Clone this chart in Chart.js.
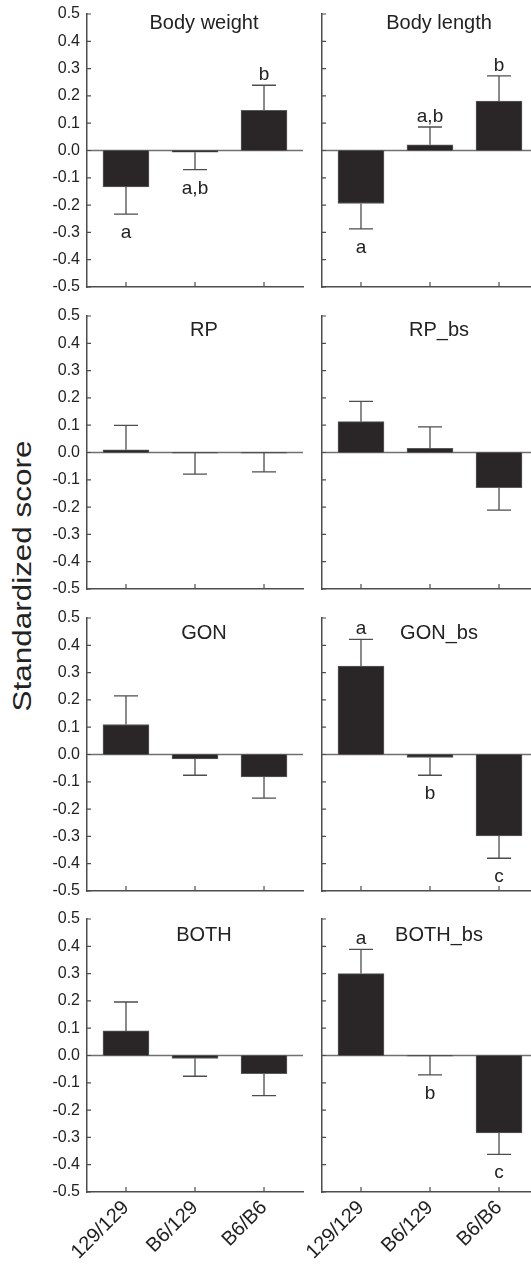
<!DOCTYPE html>
<html>
<head>
<meta charset="utf-8">
<script src="https://cdn.jsdelivr.net/npm/chart.js@4.4.1/dist/chart.umd.min.js"></script>
<style>
html, body { margin: 0; padding: 0; background: #fff; overflow: hidden; }
body { width: 531px; height: 1269px; position: relative; }
canvas { position: absolute; }
#ytitle {
  position: absolute; left: 22px; top: 576px;
  font: 26px "Liberation Sans", Arial, sans-serif; color: #222; white-space: nowrap;
  transform: translate(-50%, -50%) rotate(-90deg) scaleX(1.21);
}
</style>
</head>
<body>
<div id="ytitle">Standardized score</div>
<canvas id="c0"></canvas><canvas id="c1"></canvas>
<canvas id="c2"></canvas><canvas id="c3"></canvas>
<canvas id="c4"></canvas><canvas id="c5"></canvas>
<canvas id="c6"></canvas><canvas id="c7"></canvas>
<script>
// genotype groups on the x axis
const categories = ['129/129', 'B6/129', 'B6/B6'];

// means and one-sided SE bars
const bodyWeight = [-0.133, -0.006, 0.147];
const bodyWeightErr = [0.10, 0.064, 0.092];
const bodyWeightLetters = ['a', 'a,b', 'b'];

const bodyLength = [-0.194, 0.021, 0.181];
const bodyLengthErr = [0.093, 0.065, 0.092];
const bodyLengthLetters = ['a', 'a,b', 'b'];

const rp = [0.01, -0.002, -0.002];
const rpErr = [0.089, 0.077, 0.069];

const rpBs = [0.113, 0.015, -0.129];
const rpBsErr = [0.074, 0.079, 0.082];

const gon = [0.11, -0.016, -0.082];
const gonErr = [0.105, 0.06, 0.078];

const gonBs = [0.324, -0.011, -0.298];
const gonBsErr = [0.098, 0.065, 0.082];
const gonBsLetters = ['a', 'b', 'c'];

const both = [0.09, -0.011, -0.067];
const bothErr = [0.106, 0.065, 0.08];

const bothBs = [0.30, -0.002, -0.284];
const bothBsErr = [0.089, 0.069, 0.078];
const bothBsLetters = ['a', 'b', 'c'];

const panels = [
  { title: 'Body weight', values: bodyWeight, errs: bodyWeightErr, letters: bodyWeightLetters },
  { title: 'Body length', values: bodyLength, errs: bodyLengthErr, letters: bodyLengthLetters },
  { title: 'RP', values: rp, errs: rpErr, letters: [] },
  { title: 'RP_bs', values: rpBs, errs: rpBsErr, letters: [] },
  { title: 'GON', values: gon, errs: gonErr, letters: [] },
  { title: 'GON_bs', values: gonBs, errs: gonBsErr, letters: gonBsLetters },
  { title: 'BOTH', values: both, errs: bothErr, letters: [] },
  { title: 'BOTH_bs', values: bothBs, errs: bothBsErr, letters: bothBsLetters },
];

const FONT = '"Liberation Sans", Arial, sans-serif';
const INK = '#222';
const AXIS = '#4d4d4d';
const rowTops = [4, 306, 608, 909];
const titleBase = [15, 20, 21, 22];

// zero line, inward tick marks, error bars, letters and panel title
function makeMarks(panel, row) {
  return {
    id: 'marks' + row,
    beforeDatasetsDraw(chart) {
      const { ctx, chartArea: a, scales } = chart;
      ctx.save();
      const y0 = scales.y.getPixelForValue(0);
      ctx.strokeStyle = '#707070';
      ctx.lineWidth = 1.5;
      ctx.beginPath();
      ctx.moveTo(a.left, y0);
      ctx.lineTo(a.right, y0);
      ctx.stroke();
      ctx.strokeStyle = AXIS;
      ctx.lineWidth = 1.2;
      ctx.beginPath();
      scales.y.ticks.forEach(t => {
        const py = scales.y.getPixelForValue(t.value);
        ctx.moveTo(a.left, py);
        ctx.lineTo(a.left + 4, py);
      });
      scales.x.ticks.forEach(t => {
        const px = scales.x.getPixelForValue(t.value);
        ctx.moveTo(px, a.bottom);
        ctx.lineTo(px, a.bottom - 5);
      });
      ctx.stroke();
      ctx.restore();
    },
    afterDatasetsDraw(chart) {
      const { ctx, chartArea: a, scales } = chart;
      const meta = chart.getDatasetMeta(0);
      ctx.save();
      ctx.strokeStyle = AXIS;
      ctx.lineWidth = 1.3;
      ctx.fillStyle = INK;
      ctx.font = '19px ' + FONT;
      ctx.textAlign = 'center';
      ctx.textBaseline = 'alphabetic';
      meta.data.forEach((bar, i) => {
        const v = panel.values[i];
        const dir = v < 0 ? -1 : 1;
        const ys = scales.y.getPixelForValue(v);
        const ye = scales.y.getPixelForValue(v + dir * panel.errs[i]);
        ctx.beginPath();
        ctx.moveTo(bar.x, ys);
        ctx.lineTo(bar.x, ye);
        ctx.moveTo(bar.x - 12, ye);
        ctx.lineTo(bar.x + 12, ye);
        ctx.stroke();
        if (panel.letters[i]) {
          ctx.fillText(panel.letters[i], bar.x, dir > 0 ? ye - 5 : ye + 24);
        }
      });
      ctx.font = '20px ' + FONT;
      ctx.fillText(panel.title, a.left + 117, a.top + titleBase[row]);
      ctx.restore();
    }
  };
}

panels.forEach((panel, k) => {
  const col = k % 2;
  const row = Math.floor(k / 2);
  const isLeft = col === 0;
  const isBottom = row === 3;
  const canvas = document.getElementById('c' + k);
  const w = isLeft ? 310 : 286;
  const h = isBottom ? 360 : 291;
  canvas.width = w;
  canvas.height = h;
  canvas.style.left = (isLeft ? 0 : 262) + 'px';
  canvas.style.top = rowTops[row] + 'px';

  new Chart(canvas, {
    type: 'bar',
    data: {
      datasets: [{
        data: panel.values.map((v, i) => ({ x: i, y: v })),
        backgroundColor: '#2a2627',
        borderColor: '#5a5a5a',
        borderWidth: 1,
        barThickness: 46,
      }]
    },
    options: {
      responsive: false,
      animation: false,
      devicePixelRatio: 1,
      layout: { padding: { top: 10, right: isLeft ? 7 : 10, left: 0, bottom: 0 } },
      plugins: { legend: { display: false }, tooltip: { enabled: false } },
      scales: {
        x: {
          type: 'linear', min: -0.565, max: 2.565, offset: false,
          grid: { display: false, drawTicks: false },
          border: { display: true, color: AXIS, width: 1.5 },
          ticks: {
            display: isBottom, stepSize: 1, includeBounds: false, autoSkip: false,
            minRotation: 45, maxRotation: 45, padding: 4, color: INK,
            font: { family: FONT, size: 20 },
            callback: v => categories[v]
          },
          afterFit: s => { s.height = isBottom ? 77 : 8; }
        },
        y: {
          min: -0.5, max: 0.5,
          grid: { display: false, drawTicks: false },
          border: { display: true, color: AXIS, width: 1.5 },
          ticks: {
            display: isLeft, stepSize: 0.1, padding: 7, color: INK,
            font: { family: FONT, size: 16, lineHeight: 0.01 },
            callback: v => Math.abs(v) < 1e-9 ? '0.0' : v.toFixed(1)
          },
          afterFit: s => { s.width = isLeft ? 87 : 60; }
        }
      }
    },
    plugins: [makeMarks(panel, row)]
  });
});
</script>
</body>
</html>
